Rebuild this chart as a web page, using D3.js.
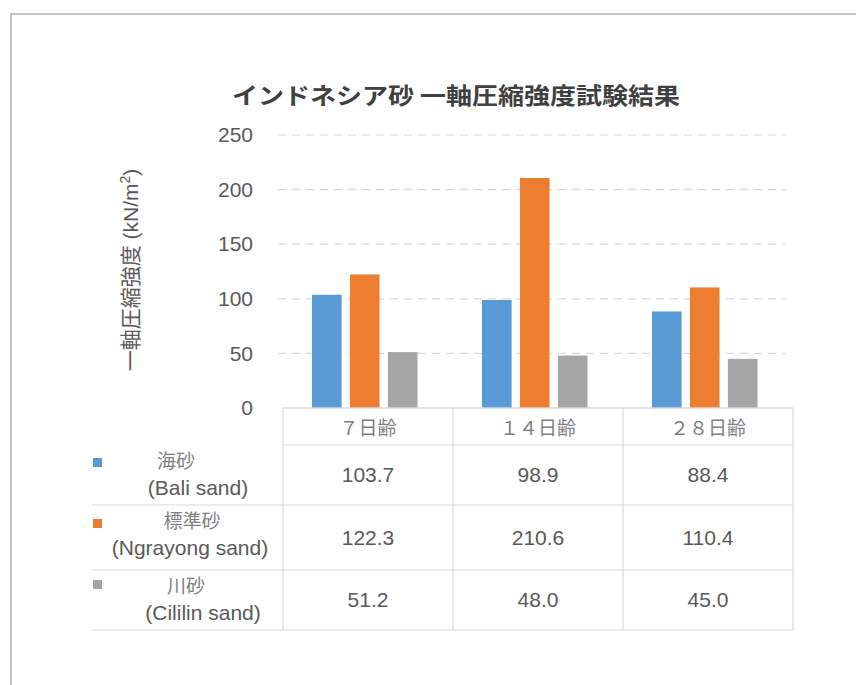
<!doctype html>
<html>
<head>
<meta charset="UTF-8">
<title>一軸圧縮強度試験結果</title>
<script src="https://cdnjs.cloudflare.com/ajax/libs/d3/7.8.5/d3.min.js"></script>
<style>
  body{ margin:0; background:#fff; }
  text{ font-family: "Liberation Sans", Arial, "Noto Sans CJK JP", sans-serif; }
  .jp{ font-family: "Noto Sans CJK JP", sans-serif; }
</style>
</head>
<body>
<svg id="chart" width="856" height="685"></svg>
<script>
// data
var categories = ["７日齢", "１４日齢", "２８日齢"];
var seriesNames = ["海砂", "標準砂", "川砂"];
var seriesSub = ["(Bali sand)", "(Ngrayong sand)", "(Cililin sand)"];
var bali = [103.7, 98.9, 88.4];
var ngrayong = [122.3, 210.6, 110.4];
var cililin = [51.2, 48.0, 45.0];
var yTicks = [0, 50, 100, 150, 200, 250];
var colors = ["#5b9bd5", "#ed7d31", "#a5a5a5"];

var values = [bali, ngrayong, cililin];

var svg = d3.select("#chart");

// outer frame
svg.append("rect")
  .attr("x", 11).attr("y", 14)
  .attr("width", 900).attr("height", 700)
  .attr("fill", "#fff")
  .attr("stroke", "#c4c4c4")
  .attr("stroke-width", 2);

var left = 283, right = 793, plotTop = 135, base = 408;

var x = d3.scaleBand().domain(categories).range([left, right]);
var xs = d3.scaleBand().domain(d3.range(3)).range([29, 134.5]).paddingInner(0.22);
var y = d3.scaleLinear().domain([0, 250]).range([base, plotTop]);

// title
svg.append("text")
  .attr("class", "jp")
  .attr("x", 456).attr("y", 104)
  .attr("text-anchor", "middle")
  .attr("font-size", 23)
  .attr("font-weight", "bold")
  .attr("fill", "#404040")
  .attr("textLength", 448)
  .attr("lengthAdjust", "spacingAndGlyphs")
  .text("インドネシア砂 一軸圧縮強度試験結果");

// gridlines
svg.append("g").selectAll("line")
  .data(yTicks.filter(function(d){ return d > 0; }))
  .enter().append("line")
  .attr("x1", 278).attr("x2", 786)
  .attr("y1", function(d){ return y(d); })
  .attr("y2", function(d){ return y(d); })
  .attr("stroke", "#d9d9d9")
  .attr("stroke-width", 1.2)
  .attr("stroke-dasharray", "8,6");

// y axis labels
var yAxis = d3.axisLeft(y).tickValues(yTicks).tickSize(0).tickPadding(0);
var ya = svg.append("g").attr("transform", "translate(253,0)").call(yAxis);
ya.select(".domain").remove();
ya.selectAll("text")
  .attr("font-size", 21)
  .attr("fill", "#595959")
  .style("font-family", "Liberation Sans, Arial, sans-serif");

// y axis title
svg.append("text")
  .attr("transform", "translate(138,270) rotate(-90)")
  .attr("text-anchor", "middle")
  .attr("font-size", 21)
  .attr("fill", "#595959")
  .html('<tspan class="jp">一軸圧縮強度</tspan> (kN/m<tspan baseline-shift="super" font-size="14">2</tspan>)');

// bars
var groups = svg.append("g").selectAll("g")
  .data(categories)
  .enter().append("g")
  .attr("transform", function(d){ return "translate(" + x(d) + ",0)"; });

groups.selectAll("rect")
  .data(function(d, i){ return values.map(function(v, s){ return {s: s, v: v[i]}; }); })
  .enter().append("rect")
  .attr("x", function(d){ return xs(d.s); })
  .attr("width", xs.bandwidth())
  .attr("y", function(d){ return y(d.v); })
  .attr("height", function(d){ return base - y(d.v); })
  .attr("fill", function(d){ return colors[d.s]; });

// data table
var rowTop = [445, 505, 570];
var rowBottom = [505, 570, 630];
var lineColor = "#d9d9d9";

svg.append("line")
  .attr("x1", left).attr("x2", right).attr("y1", base).attr("y2", base)
  .attr("stroke", lineColor).attr("stroke-width", 1.5);

svg.append("line")
  .attr("x1", left).attr("x2", right).attr("y1", 445).attr("y2", 445)
  .attr("stroke", lineColor).attr("stroke-width", 1.2);

svg.append("g").selectAll("line")
  .data(rowBottom)
  .enter().append("line")
  .attr("x1", 92).attr("x2", right)
  .attr("y1", function(d){ return d; }).attr("y2", function(d){ return d; })
  .attr("stroke", lineColor).attr("stroke-width", 1.2);

svg.append("g").selectAll("line")
  .data([left].concat(categories.map(function(c){ return x(c) + x.bandwidth(); })))
  .enter().append("line")
  .attr("x1", function(d){ return d; }).attr("x2", function(d){ return d; })
  .attr("y1", base).attr("y2", 630)
  .attr("stroke", lineColor).attr("stroke-width", 1.2);

// category labels
svg.append("g").selectAll("text")
  .data(categories)
  .enter().append("text")
  .attr("class", "jp")
  .attr("x", function(d){ return x(d) + x.bandwidth() / 2; })
  .attr("y", 435)
  .attr("text-anchor", "middle")
  .attr("font-size", 19)
  .attr("fill", "#7f7f7f")
  .text(function(d){ return d; });

// values
values.forEach(function(v, s){
  svg.append("g").selectAll("text")
    .data(v)
    .enter().append("text")
    .attr("x", function(d, i){ return x(categories[i]) + x.bandwidth() / 2; })
    .attr("y", (rowTop[s] + rowBottom[s]) / 2 + 7)
    .attr("text-anchor", "middle")
    .attr("font-size", 21)
    .attr("fill", "#595959")
    .text(function(d){ return d.toFixed(1); });
});

// legend column
var keyY = [458, 519, 580];
var jpX = [176, 192, 186];
var subX = [198, 190, 203];
seriesNames.forEach(function(name, s){
  svg.append("rect")
    .attr("x", 93).attr("y", keyY[s])
    .attr("width", 9).attr("height", 9)
    .attr("fill", colors[s]);
  svg.append("text")
    .attr("class", "jp")
    .attr("x", jpX[s]).attr("y", rowTop[s] + 23)
    .attr("text-anchor", "middle")
    .attr("font-size", 19)
    .attr("fill", "#7f7f7f")
    .text(name);
  svg.append("text")
    .attr("x", subX[s]).attr("y", rowTop[s] + 50)
    .attr("text-anchor", "middle")
    .attr("font-size", 21)
    .attr("fill", "#595959")
    .text(seriesSub[s]);
});
</script>
</body>
</html>
